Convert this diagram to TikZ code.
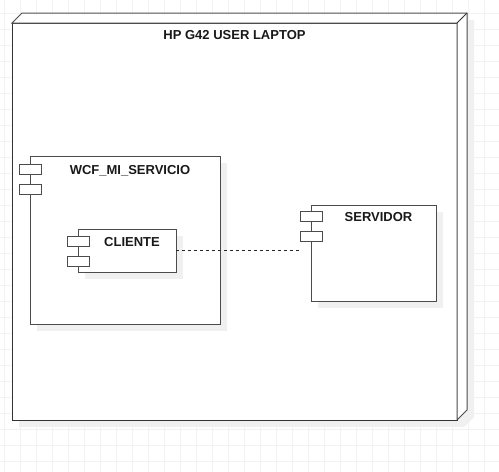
\documentclass[tikz,border=0pt]{standalone}
\usepackage{fontspec}
\setmainfont{Liberation Sans}
\usetikzlibrary{positioning}
\usetikzlibrary{shadows}

\tikzset{
  comp/.style={draw=black!70, fill=white, line width = 1pt, anchor=north west, inner sep=0pt, outer sep=0pt,
    drop shadow={shadow xshift=7pt, shadow yshift=-7pt, fill=black!6, opacity=1}},
  port/.style={draw=black!70, fill=white, line width = 1pt, minimum width=22pt, minimum height=10pt,
    anchor=north west, inner sep=0pt, outer sep=0pt},
  compname/.style={font=\bfseries\fontsize{13}{15}\selectfont, text=black!90, anchor=base, inner sep=0pt}
}

\begin{document}
\begin{tikzpicture}[x=1pt,y=-1pt]
\useasboundingbox (0,0) rectangle (499,472);
% background grid
\foreach \gx in {4.7,20.7,...,499} \draw[black!5, line width = 1pt] (\gx,0) -- (\gx,472);
\foreach \gy in {13.3,29.3,...,472} \draw[black!5, line width = 1pt] (0,\gy) -- (499,\gy);

% laptop node (3d box)
\fill[black!6] (19,30) -- (29,20) -- (474,20) -- (474,417) -- (464,427) -- (19,427) -- cycle;
\node[draw=black!80, fill=white, line width = 1pt, inner sep=0pt, outer sep=0pt, anchor=north west,
  minimum width=445, minimum height=397] (laptop) at (12,23) {};
\draw[draw=black!70, fill=white, line width = 1pt] (laptop.north west) -- ++(10,-10) -- ++(445,0) -- ++(0,397)
  -- (laptop.south east) -- (laptop.north east) -- cycle;
\draw[black!80, line width = 1pt] (laptop.north east) -- ++(10,-10);
\node[compname] (laptopname) at ([yshift=-16.5pt]laptop.north) {HP G42 USER LAPTOP};

% components
\node[comp, minimum width=190, minimum height=168] (servicio) at (30,156) {};
\node[port] (serviciop1) at ([xshift=-11pt,yshift=-8pt]servicio.north west) {};
\node[port] (serviciop2) at ([xshift=-11pt,yshift=-28pt]servicio.north west) {};
\node[compname] (servicioname) at ([xshift=5pt,yshift=-18pt]servicio.north) {WCF\_MI\_SERVICIO};

\node[comp, minimum width=98, minimum height=43] (cliente) at (78,229) {};
\node[port] (clientep1) at ([xshift=-11pt,yshift=-7pt]cliente.north west) {};
\node[port] (clientep2) at ([xshift=-11pt,yshift=-27pt]cliente.north west) {};
\node[compname] (clientename) at ([xshift=5pt,yshift=-17pt]cliente.north) {CLIENTE};

\node[comp, minimum width=125, minimum height=96] (servidor) at (311,205) {};
\node[port] (servidorp1) at ([xshift=-11pt,yshift=-6pt]servidor.north west) {};
\node[port] (servidorp2) at ([xshift=-11pt,yshift=-26pt]servidor.north west) {};
\node[compname] (servidorname) at ([xshift=5pt,yshift=-16.5pt]servidor.north) {SERVIDOR};

\draw[black!85, line width = 1pt, dash pattern=on 3pt off 3pt] (cliente.east) -- (cliente.east -| servidorp2.west);
\end{tikzpicture}
\end{document}
